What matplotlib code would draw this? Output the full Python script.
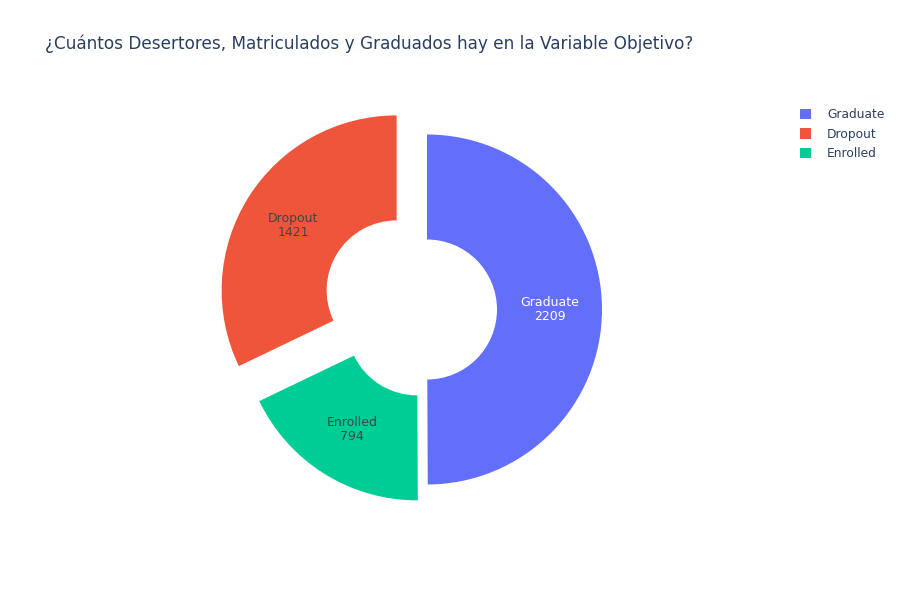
import matplotlib.pyplot as plt
from matplotlib.patches import Patch

# data
categories = ["Graduate", "Dropout", "Enrolled"]
counts = [2209, 1421, 794]
# drawing order clockwise from 12 o'clock, as in the reference
order = ["Graduate", "Enrolled", "Dropout"]
pulls = {"Graduate": 0.0, "Enrolled": 0.107, "Dropout": 0.205}
colors = {"Graduate": "#636EFA", "Dropout": "#EF553B", "Enrolled": "#00CC96"}
title = "¿Cuántos Desertores, Matriculados y Graduados hay en la Variable Objetivo?"

plt.rcParams["font.family"] = ["DejaVu Sans"]

W, H = 900, 600
R = 175.0          # outer radius in pixels
cx, cy = 427, 309.5  # donut center in pixels (from top-left)

fig = plt.figure(figsize=(9, 6), dpi=100)
ax = fig.add_axes([0, 0, 1, 1])

vals = [counts[categories.index(c)] for c in order]
label_iter = iter(f"{c}\n{counts[categories.index(c)]}" for c in order)

wedges, texts, autotexts = ax.pie(
    vals,
    colors=[colors[c] for c in order],
    explode=[pulls[c] for c in order],
    startangle=90,
    counterclock=False,
    radius=1.0,
    wedgeprops=dict(width=0.6, linewidth=0),
    autopct=lambda p: next(label_iter),
    pctdistance=0.7,
)

for c, t in zip(order, autotexts):
    t.set_fontsize(9)
    t.set_color("white" if c == "Graduate" else "#444444")
    t.set_linespacing(1.1)

ax.set_xlim(-cx / R, (W - cx) / R)
ax.set_ylim((cy - H) / R, cy / R)
ax.set_aspect("equal")
ax.axis("off")

fig.text(45 / W, 1 - 44 / H, title, fontsize=12.2, color="#2a3f5f",
         ha="left", va="center")

handles = [Patch(facecolor=colors[c], edgecolor="none") for c in categories]
fig.legend(
    handles, categories,
    loc="upper left", bbox_to_anchor=(800 / W, 1 - 108 / H),
    frameon=False, fontsize=8.8, labelcolor="#2a3f5f",
    handlelength=0.9, handleheight=0.9, handletextpad=1.3,
    labelspacing=0.55, borderaxespad=0, borderpad=0,
)

plt.savefig("out.png", dpi=100)
